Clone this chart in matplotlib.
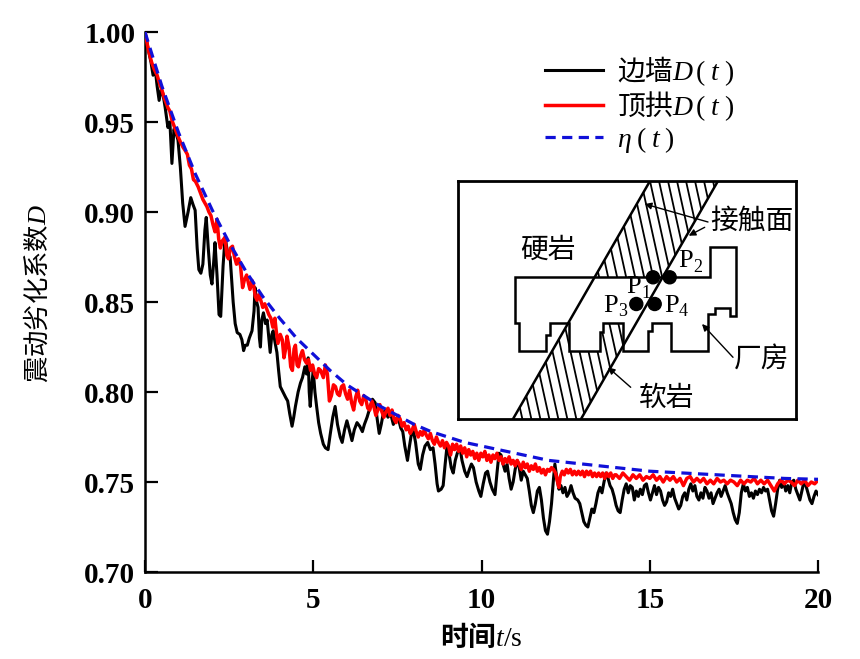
import matplotlib
matplotlib.use("Agg")
import matplotlib.pyplot as plt
from matplotlib.patches import Polygon, Circle, FancyArrowPatch

plt.rcParams['font.family'] = ['Liberation Serif', 'Noto Sans CJK SC']
plt.rcParams['mathtext.fontset'] = 'custom'
plt.rcParams['mathtext.rm'] = 'Noto Sans CJK SC'
plt.rcParams['mathtext.it'] = 'Liberation Serif:italic'
plt.rcParams['mathtext.bf'] = 'Noto Sans CJK SC:bold'
plt.rcParams['mathtext.sf'] = 'Liberation Serif'

# ---------------- data ----------------
eta_t = [0, 0.5, 1, 1.5, 2, 2.5, 3, 3.5, 4, 4.5, 5, 5.5, 6, 6.5, 7, 7.5, 8, 8.5, 9, 9.5,
         10, 11, 12, 13, 14, 15, 16, 17, 18, 19, 20]
eta_d = [1.000, 0.970, 0.944, 0.921, 0.901, 0.883, 0.867, 0.853, 0.841, 0.830, 0.821, 0.812,
         0.804, 0.798, 0.792, 0.787, 0.782, 0.778, 0.775, 0.772, 0.770, 0.766, 0.762, 0.760,
         0.758, 0.756, 0.755, 0.754, 0.753, 0.752, 0.7515]

wall_t = [0.00, 0.10, 0.18, 0.24, 0.30, 0.36, 0.42, 0.48, 0.53, 0.60, 0.68, 0.74, 0.80, 0.86,
          0.92, 0.98, 1.05, 1.12, 1.19, 1.28, 1.36, 1.43, 1.49, 1.55, 1.60, 1.66, 1.72, 1.78,
          1.82, 1.88, 1.94, 1.99, 2.04, 2.08, 2.14, 2.20, 2.25, 2.32, 2.38, 2.45, 2.53, 2.62,
          2.68, 2.74, 2.82, 2.88, 2.93, 2.98, 3.04, 3.10, 3.18, 3.24, 3.27, 3.32, 3.36, 3.40,
          3.43, 3.47, 3.52, 3.58, 3.63, 3.68, 3.72, 3.77, 3.81, 3.86, 3.92, 3.97, 4.02, 4.10,
          4.18, 4.24, 4.30, 4.37, 4.42, 4.47, 4.55, 4.62, 4.68, 4.75, 4.80, 4.85, 4.88, 4.91,
          4.96, 5.00, 5.05, 5.10, 5.16, 5.22, 5.30, 5.36, 5.44, 5.50, 5.58, 5.65, 5.72, 5.80,
          5.86, 5.93, 6.00, 6.07, 6.15, 6.22, 6.30, 6.38, 6.46, 6.52, 6.60, 6.68, 6.76, 6.84,
          6.90, 6.96, 7.02, 7.08, 7.14, 7.22, 7.30, 7.38, 7.45, 7.52, 7.60, 7.66, 7.72, 7.80,
          7.86, 7.92, 7.98, 8.04, 8.12, 8.18, 8.25, 8.32, 8.40, 8.48, 8.56, 8.62, 8.68, 8.72,
          8.80, 8.86, 8.92, 8.98, 9.04, 9.10, 9.16, 9.22, 9.28, 9.36, 9.42, 9.50, 9.57, 9.64,
          9.70, 9.76, 9.84, 9.92, 9.98, 10.05, 10.12, 10.18, 10.25, 10.32, 10.40, 10.46, 10.52,
          10.58, 10.64, 10.70, 10.76, 10.82, 10.88, 10.94, 11.00, 11.06, 11.12, 11.18, 11.24,
          11.30, 11.36, 11.42, 11.48, 11.54, 11.60, 11.66, 11.72, 11.78, 11.84, 11.90, 11.96,
          12.02, 12.08, 12.14, 12.18, 12.24, 12.30, 12.36, 12.42, 12.48, 12.54, 12.60, 12.66,
          12.72, 12.78, 12.86, 12.92, 12.98, 13.04, 13.10, 13.16, 13.22, 13.28, 13.34, 13.40,
          13.46, 13.52, 13.58, 13.64, 13.70, 13.76, 13.82, 13.88, 13.94, 14.00, 14.06, 14.12,
          14.18, 14.24, 14.30, 14.36, 14.42, 14.48, 14.54, 14.60, 14.66, 14.72, 14.78, 14.84,
          14.90, 14.96, 15.02, 15.08, 15.14, 15.20, 15.26, 15.32, 15.38, 15.44, 15.50, 15.56,
          15.62, 15.68, 15.74, 15.80, 15.86, 15.92, 15.98, 16.04, 16.10, 16.16, 16.22, 16.28,
          16.34, 16.40, 16.46, 16.52, 16.58, 16.64, 16.70, 16.76, 16.82, 16.88, 16.94, 17.00,
          17.06, 17.12, 17.18, 17.24, 17.30, 17.36, 17.42, 17.48, 17.54, 17.60, 17.66, 17.72,
          17.78, 17.84, 17.90, 17.96, 18.02, 18.08, 18.14, 18.20, 18.26, 18.32, 18.38, 18.44,
          18.50, 18.56, 18.62, 18.68, 18.74, 18.80, 18.86, 18.92, 18.98, 19.04, 19.10, 19.16,
          19.22, 19.28, 19.34, 19.40, 19.46, 19.52, 19.58, 19.64, 19.70, 19.76, 19.82, 19.88,
          19.94, 20.00]
wall_d = [1.000, 0.990, 0.983, 0.976, 0.980, 0.970, 0.962, 0.968, 0.966, 0.958, 0.947, 0.950,
          0.927, 0.946, 0.944, 0.940, 0.925, 0.905, 0.892, 0.900, 0.908, 0.904, 0.901, 0.880,
          0.868, 0.866, 0.871, 0.890, 0.897, 0.880, 0.865, 0.860, 0.872, 0.883, 0.865, 0.843,
          0.842, 0.870, 0.886, 0.878, 0.875, 0.850, 0.838, 0.833, 0.832, 0.829, 0.823, 0.826,
          0.826, 0.830, 0.834, 0.845, 0.858, 0.850, 0.847, 0.830, 0.825, 0.840, 0.844, 0.838,
          0.840, 0.830, 0.822, 0.832, 0.834, 0.828, 0.822, 0.812, 0.803, 0.800, 0.797, 0.795,
          0.788, 0.781, 0.786, 0.792, 0.800, 0.805, 0.808, 0.814, 0.810, 0.819, 0.800, 0.792,
          0.805, 0.812, 0.800, 0.792, 0.783, 0.777, 0.771, 0.769, 0.768, 0.776, 0.786, 0.792,
          0.782, 0.775, 0.772, 0.779, 0.784, 0.779, 0.773, 0.779, 0.783, 0.781, 0.778, 0.782,
          0.786, 0.791, 0.796, 0.794, 0.785, 0.777, 0.782, 0.788, 0.790, 0.786, 0.788, 0.782,
          0.785, 0.786, 0.780, 0.778, 0.770, 0.762, 0.770, 0.777, 0.778, 0.772, 0.760, 0.757,
          0.765, 0.770, 0.772, 0.768, 0.769, 0.760, 0.749, 0.745, 0.746, 0.748, 0.760, 0.771,
          0.765, 0.758, 0.755, 0.762, 0.766, 0.769, 0.762, 0.756, 0.753, 0.757, 0.760, 0.758,
          0.750, 0.745, 0.742, 0.749, 0.755, 0.756, 0.750, 0.746, 0.743, 0.755, 0.766, 0.765,
          0.760, 0.756, 0.760, 0.752, 0.746, 0.750, 0.757, 0.762, 0.758, 0.751, 0.756, 0.754,
          0.752, 0.745, 0.737, 0.733, 0.738, 0.745, 0.747, 0.740, 0.730, 0.723, 0.721, 0.728,
          0.738, 0.752, 0.760, 0.752, 0.746, 0.748, 0.744, 0.747, 0.742, 0.744, 0.748, 0.744,
          0.741, 0.740, 0.738, 0.733, 0.728, 0.726, 0.725, 0.730, 0.735, 0.733, 0.738, 0.744,
          0.747, 0.744, 0.750, 0.755, 0.752, 0.748, 0.746, 0.742, 0.737, 0.734, 0.733, 0.740,
          0.746, 0.749, 0.744, 0.748, 0.747, 0.740, 0.745, 0.742, 0.746, 0.743, 0.748, 0.749,
          0.744, 0.740, 0.744, 0.748, 0.743, 0.747, 0.745, 0.740, 0.737, 0.739, 0.744, 0.742,
          0.746, 0.741, 0.738, 0.735, 0.737, 0.742, 0.744, 0.740, 0.746, 0.749, 0.745, 0.748,
          0.742, 0.740, 0.744, 0.741, 0.747, 0.745, 0.741, 0.744, 0.738, 0.741, 0.744, 0.746,
          0.742, 0.745, 0.748, 0.744, 0.741, 0.738, 0.733, 0.729, 0.727, 0.733, 0.744, 0.749,
          0.745, 0.747, 0.742, 0.744, 0.741, 0.745, 0.743, 0.746, 0.744, 0.747, 0.745, 0.746,
          0.740, 0.734, 0.731, 0.738, 0.746, 0.751, 0.747, 0.750, 0.745, 0.748, 0.744, 0.750,
          0.751, 0.746, 0.743, 0.740, 0.745, 0.750, 0.748, 0.744, 0.740, 0.738, 0.742, 0.745,
          0.743]

arch_t = [0.00, 0.10, 0.20, 0.28, 0.36, 0.44, 0.50, 0.56, 0.62, 0.68, 0.74, 0.80, 0.86, 0.92,
          0.98, 1.05, 1.13, 1.20, 1.26, 1.32, 1.38, 1.44, 1.50, 1.58, 1.64, 1.72, 1.78, 1.84,
          1.90, 1.96, 2.02, 2.08, 2.14, 2.19, 2.24, 2.30, 2.38, 2.43, 2.48, 2.54, 2.60, 2.66,
          2.72, 2.78, 2.84, 2.90, 2.95, 3.02, 3.08, 3.12, 3.18, 3.22, 3.28, 3.33, 3.38, 3.44,
          3.50, 3.56, 3.62, 3.68, 3.74, 3.80, 3.86, 3.90, 3.95, 4.02, 4.08, 4.13, 4.18, 4.22,
          4.28, 4.33, 4.38, 4.43, 4.47, 4.52, 4.56, 4.62, 4.68, 4.74, 4.80, 4.86, 4.92, 4.98,
          5.04, 5.10, 5.16, 5.22, 5.30, 5.36, 5.42, 5.48, 5.54, 5.60, 5.66, 5.72, 5.78, 5.84,
          5.90, 5.96, 6.02, 6.08, 6.14, 6.20, 6.26, 6.32, 6.38, 6.44, 6.50, 6.56, 6.62, 6.68,
          6.74, 6.80, 6.86, 6.92, 6.98, 7.04, 7.10, 7.16, 7.22, 7.28, 7.34, 7.40, 7.46, 7.52,
          7.58, 7.64, 7.70, 7.76, 7.82, 7.88, 7.94, 8.00, 8.06, 8.12, 8.18, 8.24, 8.30, 8.36,
          8.42, 8.48, 8.54, 8.60, 8.66, 8.72, 8.78, 8.84, 8.90, 8.96, 9.02, 9.08, 9.14, 9.20,
          9.26, 9.32, 9.38, 9.44, 9.50, 9.56, 9.62, 9.68, 9.74, 9.80, 9.86, 9.92, 9.98, 10.04,
          10.10, 10.16, 10.22, 10.28, 10.34, 10.40, 10.46, 10.52, 10.58, 10.64, 10.70, 10.76,
          10.82, 10.88, 10.94, 11.00, 11.06, 11.12, 11.18, 11.24, 11.30, 11.36, 11.42, 11.48,
          11.54, 11.60, 11.66, 11.72, 11.78, 11.84, 11.90, 11.96, 12.02, 12.08, 12.14, 12.20,
          12.26, 12.30, 12.34, 12.40, 12.46, 12.52, 12.58, 12.64, 12.70, 12.76, 12.82, 12.88,
          12.94, 13.00, 13.06, 13.12, 13.18, 13.24, 13.30, 13.36, 13.42, 13.48, 13.54, 13.60,
          13.66, 13.72, 13.78, 13.84, 13.90, 13.96,
          14.0, 14.1, 14.2, 14.3, 14.4, 14.5, 14.6, 14.7, 14.8, 14.9, 15.0, 15.1, 15.2, 15.3,
          15.4, 15.5, 15.6, 15.7, 15.8, 15.9, 16.0, 16.1, 16.2, 16.3, 16.4, 16.5, 16.6, 16.7,
          16.8, 16.9, 17.0, 17.1, 17.2, 17.3, 17.4, 17.5, 17.6, 17.7, 17.8, 17.9, 18.0, 18.1,
          18.2, 18.3, 18.4, 18.5, 18.6, 18.7, 18.8, 18.9, 19.0, 19.1, 19.2, 19.3, 19.4, 19.5,
          19.6, 19.7, 19.8, 19.9, 20.0]
arch_d = [1.000, 0.990, 0.983, 0.979, 0.976, 0.971, 0.968, 0.964, 0.961, 0.958, 0.956, 0.951,
          0.948, 0.945, 0.942, 0.939, 0.936, 0.934, 0.932, 0.926, 0.924, 0.918, 0.917, 0.914,
          0.911, 0.907, 0.905, 0.903, 0.900, 0.898, 0.893, 0.889, 0.896, 0.885, 0.880, 0.884,
          0.886, 0.876, 0.874, 0.880, 0.881, 0.875, 0.871, 0.874, 0.870, 0.858, 0.862, 0.865,
          0.860, 0.857, 0.862, 0.860, 0.853, 0.851, 0.854, 0.851, 0.847, 0.849, 0.846, 0.843,
          0.841, 0.836, 0.841, 0.834, 0.827, 0.832, 0.829, 0.819, 0.824, 0.831, 0.825, 0.814,
          0.812, 0.824, 0.826, 0.815, 0.814, 0.820, 0.823, 0.818, 0.816, 0.818, 0.812, 0.815,
          0.810, 0.808, 0.813, 0.812, 0.808, 0.815, 0.810, 0.795, 0.798, 0.804, 0.803, 0.799,
          0.798, 0.803, 0.804, 0.799, 0.796, 0.801, 0.794, 0.790, 0.797, 0.801, 0.795, 0.793,
          0.798, 0.796, 0.791, 0.790, 0.795, 0.792, 0.787, 0.790, 0.793, 0.789, 0.786, 0.789,
          0.791, 0.787, 0.790, 0.785, 0.783, 0.787, 0.785, 0.781, 0.783, 0.779, 0.781, 0.777,
          0.779, 0.782, 0.778, 0.775, 0.778, 0.776, 0.779, 0.776, 0.774, 0.777, 0.773, 0.771,
          0.775, 0.772, 0.770, 0.773, 0.769, 0.772, 0.770, 0.765, 0.771, 0.768, 0.771, 0.767,
          0.770, 0.766, 0.769, 0.764, 0.768, 0.765, 0.767, 0.763, 0.766, 0.762, 0.766, 0.764,
          0.767, 0.762, 0.765, 0.761, 0.765, 0.763, 0.766, 0.762, 0.764, 0.760, 0.763, 0.761,
          0.764, 0.760, 0.762, 0.759, 0.762, 0.760, 0.757, 0.761, 0.758, 0.760, 0.756, 0.759,
          0.757, 0.760, 0.756, 0.758, 0.755, 0.757, 0.754, 0.757, 0.756, 0.758, 0.757, 0.755,
          0.750, 0.747, 0.753, 0.756, 0.754, 0.757, 0.755, 0.757, 0.754, 0.756, 0.754, 0.756,
          0.754, 0.756, 0.753, 0.756, 0.754, 0.756, 0.753, 0.755, 0.753, 0.755, 0.753, 0.755,
          0.752, 0.755, 0.753, 0.755, 0.752, 0.754,
          0.754, 0.752, 0.755, 0.753, 0.751, 0.754, 0.752, 0.754, 0.751, 0.753, 0.752, 0.754,
          0.751, 0.753, 0.750, 0.753, 0.751, 0.753, 0.750, 0.752, 0.748, 0.752, 0.753, 0.750,
          0.752, 0.750, 0.752, 0.749, 0.751, 0.749, 0.752, 0.750, 0.751, 0.749, 0.751, 0.750,
          0.748, 0.751, 0.749, 0.751, 0.750, 0.752, 0.749, 0.751, 0.749, 0.751, 0.748, 0.745,
          0.749, 0.751, 0.749, 0.751, 0.750, 0.748, 0.751, 0.749, 0.751, 0.748, 0.750, 0.749,
          0.751]

labels = [r'$\mathrm{边墙}D\,\mathsf{(}\;t\;\mathsf{)}$',
          r'$\mathrm{顶拱}D\,\mathsf{(}\;t\;\mathsf{)}$',
          r'$\eta\;\mathsf{(}\;t\;\mathsf{)}$']
x_ticks = [0, 5, 10, 15, 20]
y_ticks = [0.70, 0.75, 0.80, 0.85, 0.90, 0.95, 1.00]

# ---------------- main plot ----------------
fig = plt.figure(figsize=(8.6, 6.59), dpi=100)
ax = fig.add_axes([0.1686, 0.132, 0.7826, 0.8194])

ax.plot(wall_t, wall_d, color='black', lw=2.2, label=labels[0], zorder=2)
ax.plot(arch_t, arch_d, color='#ff0000', lw=2.5, label=labels[1], zorder=3)
ax.plot(eta_t, eta_d, color='#1010d8', lw=2.3, ls=(0, (3.2, 2.0)), label=labels[2], zorder=4)

ax.set_xlim(0, 20)
ax.set_ylim(0.70, 1.00)
ax.set_xticks(x_ticks)
ax.set_yticks(y_ticks)
ax.set_yticklabels([f'{v:.2f}' for v in y_ticks])
for s in ['top', 'right']:
    ax.spines[s].set_visible(False)
for s in ['left', 'bottom']:
    ax.spines[s].set_linewidth(1.8)
ax.tick_params(direction='in', length=9, width=1.6, labelsize=21)
ax.tick_params(axis='y', pad=7)
ax.tick_params(axis='x', pad=11)
for lab in ax.get_xticklabels() + ax.get_yticklabels():
    lab.set_fontweight('bold')

ax.set_xlabel(r'$\mathbf{时间}t\mathsf{/s}$', fontsize=20)
ax.xaxis.set_label_coords(0.5, -0.095)
ax.set_ylabel(r'$\mathrm{震动劣化系数}D$', fontsize=19)
ax.yaxis.set_label_coords(-0.140, 0.515)

leg = ax.legend(loc='upper left', bbox_to_anchor=(0.557, 1.006), frameon=False, fontsize=20,
                handlelength=2.1, handletextpad=0.5, labelspacing=0.06)

# ---------------- inset schematic ----------------
ins = fig.add_axes([458 / 860, (659 - 419) / 659, 338 / 860, 238 / 659])
ins.set_xlim(0, 338)
ins.set_ylim(238, 0)
ins.set_xticks([])
ins.set_yticks([])
for s in ins.spines.values():
    s.set_linewidth(2.0)

band = [(55, 238), (192, 0), (260, 0), (123, 238)]
band_patch = Polygon(band, closed=True, facecolor='none', edgecolor='none')
ins.add_patch(band_patch)
for x0 in range(-60, 345, 9):
    ln, = ins.plot([x0, x0 + 0.22 * 238], [0, 238], color='black', lw=1.3, zorder=1)
    ln.set_clip_path(band_patch)

cavern = [(56.7, 96.3), (251.7, 96.3), (251.7, 66.3), (278.3, 66.3), (278.3, 134.7),
          (271.7, 134.7), (271.7, 127.3), (256.7, 127.3), (256.7, 133), (250, 133),
          (250, 169.7), (213.3, 169.7), (213.3, 142), (194, 142), (194, 149.7), (190, 149.7),
          (190, 169.7), (165, 169.7), (165, 142), (145, 142), (145, 150.7), (141.7, 150.7),
          (141.7, 169.7), (110.7, 169.7), (110.7, 142), (91.7, 142), (91.7, 154), (88.3, 154),
          (88.3, 169.7), (61, 169.7), (61, 142), (56.7, 142)]
ins.add_patch(Polygon(cavern, closed=True, facecolor='white', edgecolor='black', lw=1.8, zorder=2))
ins.plot([55, 192], [238, 0], color='black', lw=1.8, zorder=3)
ins.plot([123, 260], [238, 0], color='black', lw=1.8, zorder=3)

for (cx, cy) in [(195, 96.3), (211.7, 96.3), (178.3, 123), (196.7, 123)]:
    ins.add_patch(Circle((cx, cy), 6.5, color='black', zorder=5))

def plab(x, y, n):
    ins.text(x, y, 'P', fontsize=19, ha='center', va='center', zorder=6)
    ins.text(x + 7, y + 6, n, fontsize=13, ha='left', va='center', zorder=6)

plab(176, 106, '1')
plab(228, 80, '2')
plab(153, 125, '3')
plab(214, 125, '4')

ins.text(90, 70, '硬岩', fontsize=20, ha='center', va='center')
ins.text(294, 41, '接触面', fontsize=20, ha='center', va='center')
ins.text(304, 180, '厂房', fontsize=20, ha='center', va='center')
ins.text(209, 218, '软岩', fontsize=20, ha='center', va='center')

arrow_kw = dict(arrowstyle='-|>', mutation_scale=10, color='black', lw=1.0, zorder=6)
for (tail, head) in [((250, 41), (186.7, 23)), ((246.7, 46.3), (230.7, 54.7)),
                     ((275, 176.3), (244, 143)), ((172.7, 206.3), (150, 186.3))]:
    ins.add_patch(FancyArrowPatch(tail, head, shrinkA=0, shrinkB=0, **arrow_kw))

fig.savefig('out.png', dpi=100)
